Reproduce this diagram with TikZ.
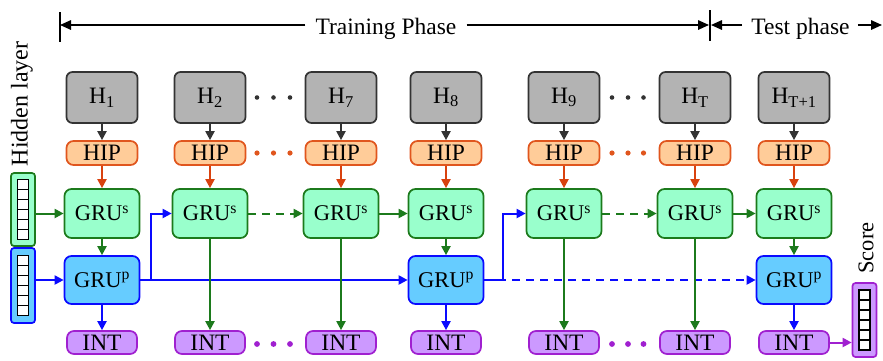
\documentclass[tikz,border=0pt]{standalone}
\usepackage{fontspec}
\setmainfont{Liberation Serif}
\usetikzlibrary{arrows.meta}
\definecolor{hfill}{HTML}{B3B3B3}
\definecolor{hdraw}{HTML}{333333}
\definecolor{hipfill}{HTML}{FFCC99}
\definecolor{hipdraw}{HTML}{E0561E}
\definecolor{hiparr}{HTML}{D9420F}
\definecolor{gfill}{HTML}{99FFCC}
\definecolor{gdraw}{HTML}{1C7A1C}
\definecolor{pfill}{HTML}{66CCFF}
\definecolor{pdraw}{HTML}{0A0AFF}
\definecolor{ifill}{HTML}{CC99FF}
\definecolor{idraw}{HTML}{A020D0}
\begin{document}
\begin{tikzpicture}[x=1pt,y=-1pt,
  box/.style={draw, rounded corners=6pt, line width=1.7pt, inner sep=0pt, align=center},
  hbox/.style={box, draw=hdraw, fill=hfill, minimum width=71pt, minimum height=51pt, font=\fontsize{23.5}{23.5}\selectfont},
  hipbox/.style={box, draw=hipdraw, fill=hipfill, minimum width=71pt, minimum height=24pt, rounded corners=7pt, font=\fontsize{23.5}{23.5}\selectfont},
  gsbox/.style={box, draw=gdraw, fill=gfill, minimum width=75pt, minimum height=49pt, rounded corners=7pt, font=\fontsize{22.5}{22.5}\selectfont},
  gpbox/.style={box, draw=pdraw, fill=pfill, minimum width=75pt, minimum height=48pt, rounded corners=7pt, font=\fontsize{22.5}{22.5}\selectfont},
  intbox/.style={box, draw=idraw, fill=ifill, minimum width=70pt, minimum height=23pt, rounded corners=7pt, font=\fontsize{23.5}{23.5}\selectfont},
  vecbox/.style={draw, rounded corners=3pt, line width=1.7pt, minimum width=24pt, inner sep=0pt},
  cellst/.style={draw=black, fill=white, line width=1.3pt},
  arr/.style={line width=2pt, -{Triangle[length=9pt,width=9pt]}},
  harr/.style={arr, draw=hdraw},
  oarr/.style={arr, draw=hiparr},
  garr/.style={arr, draw=gdraw},
  parr/.style={arr, draw=pdraw},
  iarr/.style={arr, draw=idraw},
  tarr/.style={line width=1.6pt, -{Triangle[length=11pt,width=9.5pt]}},
  dsh/.style={dash pattern=on 8pt off 6pt},
  lbl/.style={font=\fontsize{23.5}{23.5}\selectfont, inner sep=0pt}
]
\useasboundingbox (0,0) rectangle (883,360);

% top phase arrows
\coordinate (tl) at (60,25);
\coordinate (tm) at (710,25);
\coordinate (tr) at (882,25);
\draw[line width=1.6pt] (60,12) -- (60,42);
\draw[line width=1.6pt] (710,10) -- (710,41);
\node[lbl, anchor=base] (tp) at (386,34) {Training Phase};
\node[lbl, anchor=base] (ts) at (800.5,34) {Test phase};
\draw[tarr] ([xshift=-10pt]tp.west |- tl) -- (tl);
\draw[tarr] ([xshift=10pt]tp.east |- tl) -- ([xshift=-1pt]tm);
\draw[tarr] ([xshift=-9pt]ts.west |- tl) -- ([xshift=1pt]tm);
\draw[tarr] ([xshift=8pt]ts.east |- tl) -- (tr);

% side labels
\node[lbl, rotate=90, font=\fontsize{24}{24}\selectfont] (hl) at (22,104) {Hidden layer};
\node[lbl, rotate=90, font=\fontsize{22.5}{22.5}\selectfont] (sc) at (866,248) {Score};

% H row
\node[hbox] (h1) at (102,97.5) {H\textsubscript{1}};
\node[hbox] (h2) at (210,97.5) {H\textsubscript{2}};
\node[hbox] (h3) at (341,97.5) {H\textsubscript{7}};
\node[hbox] (h4) at (446,97.5) {H\textsubscript{8}};
\node[hbox] (h5) at (564,97.5) {H\textsubscript{9}};
\node[hbox] (h6) at (695,97.5) {H\textsubscript{T}};
\node[hbox] (h7) at (794,97.5) {H\textsubscript{T+1}};

% HIP, GRU^s, INT rows
\foreach \i/\x in {1/102,2/210,3/341,4/446,5/564,6/695,7/794} {
  \node[hipbox] (hip\i) at (\x,153) {HIP};
  \node[gsbox] (gs\i) at (\x,213.5) {GRU\textsuperscript{s}};
  \node[intbox] (int\i) at (\x,342.5) {INT};
}
% GRU^p
\node[gpbox] (gp1) at (102,280) {GRU\textsuperscript{p}};
\node[gpbox] (gp4) at (446,280) {GRU\textsuperscript{p}};
\node[gpbox] (gp7) at (794,280) {GRU\textsuperscript{p}};

% vectors
\node[vecbox, draw=gdraw, fill=gfill, minimum height=73pt] (vg) at (23,209.5) {};
\node[vecbox, draw=pdraw, fill=pfill, minimum height=75pt] (vp) at (23,285.5) {};
\node[vecbox, draw=idraw, fill=ifill, minimum height=74pt] (vs) at (864.5,320) {};
\foreach \cx/\cy in {23/209.5, 23/285.5, 864.5/320} {
  \foreach \k in {0,...,5} {
    \draw[cellst] ({\cx-5.5},{\cy-30+10*\k}) rectangle ++(11,10);
  }
}

% dots
\foreach \dx in {257,273.5,290, 612,628,643.5} {
  \fill[hdraw] (\dx,97.5) circle (2.3pt);
  \fill[hipdraw] (\dx,153) circle (2.6pt);
  \fill[idraw] (\dx,344) circle (2.9pt);
}

% vertical arrows
\foreach \i in {1,...,7} {
  \draw[harr] (h\i) -- (hip\i);
  \draw[oarr] (hip\i) -- (gs\i);
}
\foreach \i in {1,4,7} {
  \draw[garr] (gs\i) -- (gp\i);
  \draw[parr] (gp\i) -- (int\i);
}

% horizontal connections
\draw[garr] (vg.east |- gs1.west) -- (gs1.west);
\draw[parr] (vp.east |- gp1.west) -- (gp1.west);
\draw[parr] (gp1.east) -- (gp4.west);
\draw[parr] (gp1.east) -- ++(11,0) |- (gs2.west);
\draw[parr] (gp4.east) -- ++(19,0) |- (gs5.west);
\draw[parr, dsh] (gp4.east) -- (gp7.west);
\draw[garr, dsh] (gs2.east) -- (gs3.west);
\draw[garr] (gs3.east) -- (gs4.west);
\draw[garr, dsh] (gs5.east) -- (gs6.west);
\draw[garr] (gs6.east) -- (gs7.west);
\foreach \i in {2,3,5,6} {
  \draw[garr] (gs\i) -- (int\i);
}
\draw[iarr] (int7.east) -- (vs.west |- int7.east);
\end{tikzpicture}
\end{document}
